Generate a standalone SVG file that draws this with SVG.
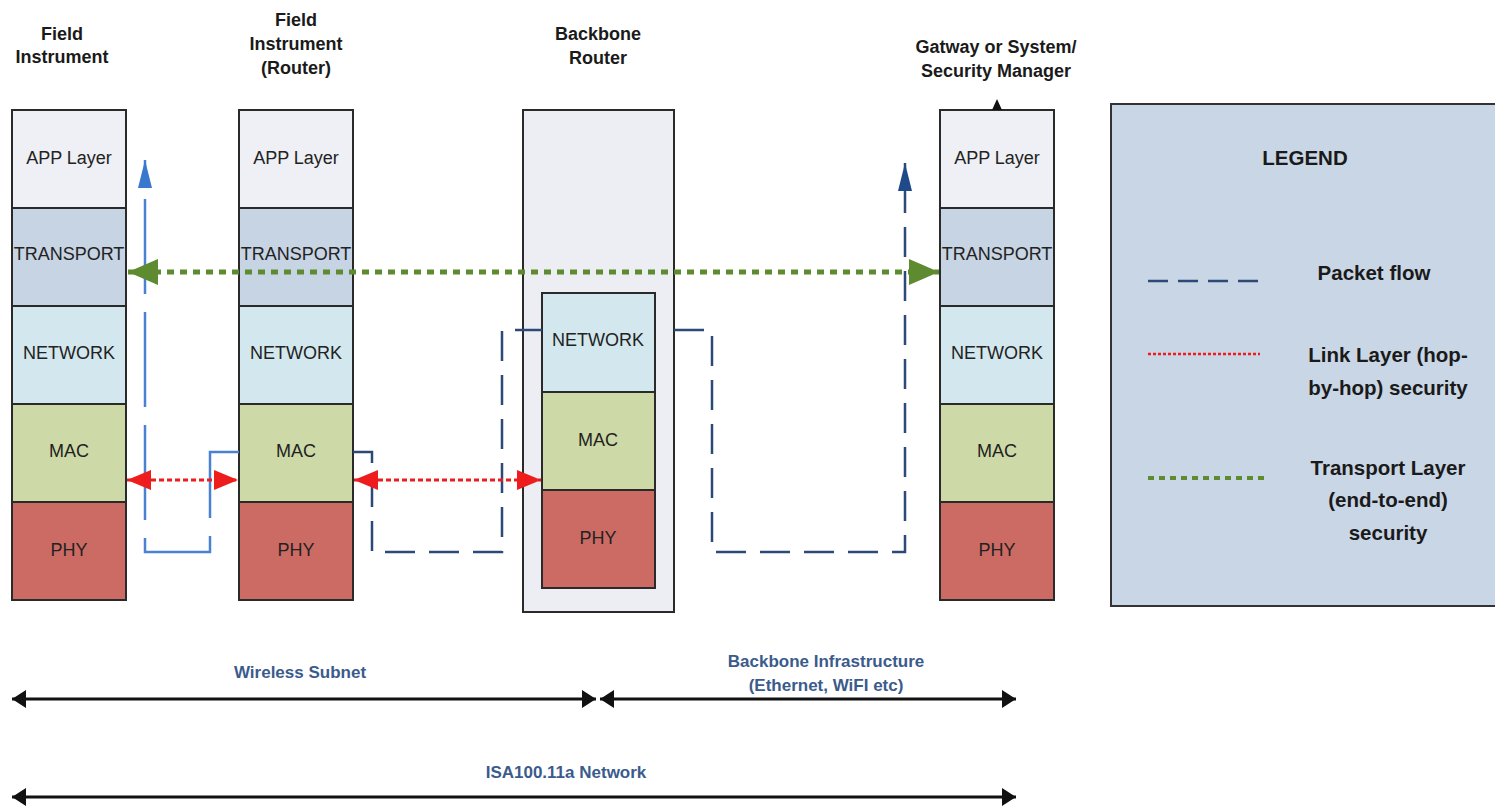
<svg xmlns="http://www.w3.org/2000/svg" width="1495" height="808" viewBox="0 0 1495 808">
<style>
.lbl{font-family:"Liberation Sans",Arial,sans-serif;font-weight:bold;font-size:18px;fill:#1a1a1a;text-anchor:middle}
.lay{font-family:"Liberation Sans",Arial,sans-serif;font-size:18px;fill:#222;text-anchor:middle;dominant-baseline:central}
.blu{font-family:"Liberation Sans",Arial,sans-serif;font-weight:bold;font-size:17px;fill:#3b5b8c;text-anchor:middle}
.leg{font-family:"Liberation Sans",Arial,sans-serif;font-weight:bold;font-size:20.5px;fill:#1a1a1a;text-anchor:middle}
.b{stroke:#2a2a2a;stroke-width:2}
.app{fill:#eef0f5}.tr{fill:#c6d4e4}.nw{fill:#d2e8ee}.mac{fill:#cdd9a6}.phy{fill:#cc6b64}
.pf1{fill:none;stroke:#4a82d2;stroke-width:2.5;stroke-dasharray:95 18}
.pf2{fill:none;stroke:#2c4a78;stroke-width:2.5;stroke-dasharray:30 14}
.red{stroke:#ee1c1c;stroke-width:3;stroke-dasharray:5 3}
.grn{stroke:#5e8a30;stroke-width:5;stroke-dasharray:7 6}
.blk{stroke:#111;stroke-width:3}
</style>
<defs>
<marker id="mr" viewBox="0 0 10 10" refX="10" refY="5" markerWidth="24" markerHeight="20" markerUnits="userSpaceOnUse" orient="auto-start-reverse" preserveAspectRatio="none"><path d="M0,0L10,5L0,10z" fill="#ee1c1c"/></marker>
<marker id="mg" viewBox="0 0 10 10" refX="10" refY="5" markerWidth="30" markerHeight="26" markerUnits="userSpaceOnUse" orient="auto-start-reverse" preserveAspectRatio="none"><path d="M0,0L10,5L0,10z" fill="#5e8a30"/></marker>
<marker id="mk" viewBox="0 0 10 10" refX="10" refY="5" markerWidth="14" markerHeight="18" markerUnits="userSpaceOnUse" orient="auto-start-reverse" preserveAspectRatio="none"><path d="M0,0L10,5L0,10z" fill="#111"/></marker>
<marker id="mb1" viewBox="0 0 10 10" refX="10" refY="5" markerWidth="28" markerHeight="14" markerUnits="userSpaceOnUse" orient="auto" preserveAspectRatio="none"><path d="M0,0L10,5L0,10z" fill="#3a78d0"/></marker>
<marker id="mb2" viewBox="0 0 10 10" refX="10" refY="5" markerWidth="28" markerHeight="14" markerUnits="userSpaceOnUse" orient="auto" preserveAspectRatio="none"><path d="M0,0L10,5L0,10z" fill="#1f4a8a"/></marker>
</defs>
<rect width="1495" height="808" fill="#fff"/>

<g id="field-instrument">
<text class="lbl" x="62" y="40">Field</text>
<text class="lbl" x="62" y="63">Instrument</text>
<rect class="b app" x="12" y="110" width="114" height="98"/>
<rect class="b tr" x="12" y="208" width="114" height="98"/>
<rect class="b nw" x="12" y="306" width="114" height="98"/>
<rect class="b mac" x="12" y="404" width="114" height="98"/>
<rect class="b phy" x="12" y="502" width="114" height="98"/>
<text class="lay" x="69" y="158">APP Layer</text>
<text class="lay" x="69" y="254">TRANSPORT</text>
<text class="lay" x="69" y="353">NETWORK</text>
<text class="lay" x="69" y="451">MAC</text>
<text class="lay" x="69" y="550">PHY</text>
</g>

<g id="field-instrument-router">
<text class="lbl" x="296" y="26">Field</text>
<text class="lbl" x="296" y="50">Instrument</text>
<text class="lbl" x="296" y="74">(Router)</text>
<rect class="b app" x="239" y="110" width="114" height="98"/>
<rect class="b tr" x="239" y="208" width="114" height="98"/>
<rect class="b nw" x="239" y="306" width="114" height="98"/>
<rect class="b mac" x="239" y="404" width="114" height="98"/>
<rect class="b phy" x="239" y="502" width="114" height="98"/>
<text class="lay" x="296" y="158">APP Layer</text>
<text class="lay" x="296" y="254">TRANSPORT</text>
<text class="lay" x="296" y="353">NETWORK</text>
<text class="lay" x="296" y="451">MAC</text>
<text class="lay" x="296" y="550">PHY</text>
</g>

<g id="backbone-router">
<text class="lbl" x="598" y="40">Backbone</text>
<text class="lbl" x="598" y="64">Router</text>
<rect class="b" x="523" y="110" width="151" height="502" fill="#eceef4"/>
<rect class="b nw" x="542" y="293" width="113" height="99"/>
<rect class="b mac" x="542" y="392" width="113" height="98"/>
<rect class="b phy" x="542" y="490" width="113" height="98"/>
<text class="lay" x="598" y="340">NETWORK</text>
<text class="lay" x="598" y="440">MAC</text>
<text class="lay" x="598" y="538">PHY</text>
</g>

<g id="gateway">
<text class="lbl" x="996" y="53">Gatway or System/</text>
<text class="lbl" x="996" y="77">Security Manager</text>
<rect class="b app" x="940" y="110" width="114" height="98"/>
<rect class="b tr" x="940" y="208" width="114" height="98"/>
<rect class="b nw" x="940" y="306" width="114" height="98"/>
<rect class="b mac" x="940" y="404" width="114" height="98"/>
<rect class="b phy" x="940" y="502" width="114" height="98"/>
<text class="lay" x="997" y="158">APP Layer</text>
<text class="lay" x="997" y="254">TRANSPORT</text>
<text class="lay" x="997" y="353">NETWORK</text>
<text class="lay" x="997" y="451">MAC</text>
<text class="lay" x="997" y="550">PHY</text>
<path d="M992,110L997,99L1002,110z" fill="#111"/>
</g>

<g id="legend">
<rect x="1111" y="104" width="390" height="502" fill="#c9d6e5" stroke="#333" stroke-width="2"/>
<text class="leg" x="1305" y="165">LEGEND</text>
<line x1="1148" y1="281" x2="1260" y2="281" stroke="#2c4a78" stroke-width="2.5" stroke-dasharray="20 10"/>
<text class="leg" x="1374" y="280">Packet flow</text>
<line x1="1148" y1="354" x2="1260" y2="354" stroke="#ee1c1c" stroke-width="2.5" stroke-dasharray="3 2"/>
<text class="leg" x="1388" y="362">Link Layer (hop-</text>
<text class="leg" x="1388" y="395">by-hop) security</text>
<line x1="1148" y1="478" x2="1265" y2="478" stroke="#5e8a30" stroke-width="4" stroke-dasharray="6 5"/>
<text class="leg" x="1388" y="475">Transport Layer</text>
<text class="leg" x="1388" y="507">(end-to-end)</text>
<text class="leg" x="1388" y="540">security</text>
</g>

<g id="connectors">
<path class="pf1" d="M239,452H210V552H145V160" marker-end="url(#mb1)"/>
<path class="pf2" d="M353,452H372V552H502V330H542"/>
<path class="pf2" d="M674,330H712V552H905V163" marker-end="url(#mb2)"/>
<line class="red" x1="127" y1="480" x2="238" y2="480" marker-start="url(#mr)" marker-end="url(#mr)"/>
<line class="red" x1="354" y1="480" x2="541" y2="480" marker-start="url(#mr)" marker-end="url(#mr)"/>
<line class="grn" x1="128" y1="272" x2="939" y2="272" marker-start="url(#mg)" marker-end="url(#mg)"/>
<line class="blk" x1="12" y1="699" x2="596" y2="699" marker-start="url(#mk)" marker-end="url(#mk)"/>
<line class="blk" x1="600" y1="699" x2="1016" y2="699" marker-start="url(#mk)" marker-end="url(#mk)"/>
<line class="blk" x1="12" y1="797" x2="1016" y2="797" marker-start="url(#mk)" marker-end="url(#mk)"/>
</g>

<g id="spans">
<text class="blu" x="300" y="678">Wireless Subnet</text>
<text class="blu" x="826" y="667">Backbone Infrastructure</text>
<text class="blu" x="826" y="691">(Ethernet, WiFI etc)</text>
<text class="blu" x="566" y="778">ISA100.11a Network</text>
</g>
</svg>
